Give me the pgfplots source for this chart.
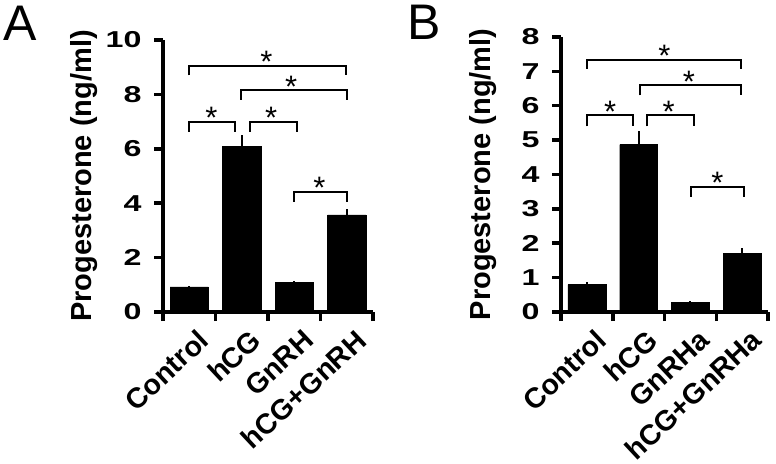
\documentclass[border=0pt]{standalone}
\usepackage{pgfplots}
\pgfplotsset{compat=1.18}
\usepackage{fontspec}
\setmainfont{Liberation Sans}
\newfontfamily\tickfont[FakeStretch=1.4]{Liberation Sans}
\tikzset{sigstar/.style={anchor=base, font=\fontsize{31}{31}\selectfont, yshift=-7pt}}
\begin{document}
\begin{tikzpicture}
\useasboundingbox (0,0) rectangle (776pt,463pt);
\pgfplotsset{
  myax/.style={
    scale only axis, anchor=south west, clip=false,
    xmin=-0.5, xmax=3.5, ymin=0,
    axis x line=bottom, axis y line=left,
    axis line style={-, line width=3.5pt},
    tick align=outside,
    major tick length=9pt,
    every tick/.style={black, line width=3.5pt},
    /pgf/number format/assume math mode=true,
    xtick={-0.5,0.5,1.5,2.5,3.5}, xticklabels={},
    extra x ticks={0,1,2,3},
    extra x tick style={major tick length=0pt,
      xticklabel style={rotate=43, anchor=north east, font=\bfseries\fontsize{28.5}{28.5}\selectfont, xshift=-2pt, yshift=-13pt}},
    yticklabel style={font=\tickfont\bfseries\fontsize{23}{23}\selectfont, xshift=-9pt},
    ylabel={Progesterone (ng/ml)},
    ylabel style={font=\bfseries\fontsize{29}{29}\selectfont, anchor=center},
  },
  brk/.style={black, line width=2pt, no marks, forget plot},
  bars/.style={ybar, bar width=0.73, fill=black, draw=black,
    error bars/.cd, y dir=plus, y explicit, error mark=none,
    error bar style={line width=2pt}},
}
\node[font=\fontsize{50}{50}\selectfont] at (20pt,440pt) {A};
\node[font=\fontsize{50}{50}\selectfont] at (424pt,441pt) {B};
% Panel A
\begin{axis}[myax, at={(163pt,151pt)}, width=210pt, height=272pt,
  ymax=10, ytick={0,2,4,6,8,10},
  extra x tick labels={Control,hCG,GnRH,hCG+GnRH},
  ylabel style={at={(axis description cs:-0.375,0.5)}}]
\addplot[bars] coordinates {(0,0.92) +- (0,0.02) (1,6.1) +- (0,0.4) (2,1.1) +- (0,0.03) (3,3.57) +- (0,0.21)};
\addplot[brk] coordinates {(0,8.7) (0,9.05) (2.98,9.05) (2.98,8.7)};
\addplot[brk] coordinates {(0.98,7.8) (0.98,8.16) (3.0,8.16) (3.0,7.8)};
\addplot[brk] coordinates {(0,6.63) (0,7.0) (0.88,7.0) (0.88,6.63)};
\addplot[brk] coordinates {(1.15,6.63) (1.15,7.0) (2.06,7.0) (2.06,6.63)};
\addplot[brk] coordinates {(2.0,4.05) (2.0,4.42) (3.0,4.42) (3.0,4.05)};
\node[sigstar] at (axis cs:1.47,9.05) {*};
\node[sigstar] at (axis cs:1.94,8.16) {*};
\node[sigstar] at (axis cs:0.42,7.0) {*};
\node[sigstar] at (axis cs:1.56,7.0) {*};
\node[sigstar] at (axis cs:2.48,4.42) {*};
\end{axis}
% Panel B
\begin{axis}[myax, at={(561pt,151pt)}, width=207pt, height=275pt,
  ymax=8, ytick={0,1,2,3,4,5,6,7,8},
  extra x tick labels={Control,hCG,GnRHa,hCG+GnRHa},
  ylabel style={at={(axis description cs:-0.377,0.5)}}]
\addplot[bars] coordinates {(0,0.8) +- (0,0.07) (1,4.87) +- (0,0.4) (2,0.28) +- (0,0.04) (3,1.7) +- (0,0.15)};
\addplot[brk] coordinates {(0,7.08) (0,7.34) (2.98,7.34) (2.98,7.08)};
\addplot[brk] coordinates {(1.02,6.3) (1.02,6.6) (2.98,6.6) (2.98,6.3)};
\addplot[brk] coordinates {(0,5.4) (0,5.73) (0.89,5.73) (0.89,5.4)};
\addplot[brk] coordinates {(1.16,5.4) (1.16,5.73) (2.07,5.73) (2.07,5.4)};
\addplot[brk] coordinates {(2.02,3.35) (2.02,3.64) (3.03,3.64) (3.03,3.35)};
\node[sigstar] at (axis cs:1.5,7.34) {*};
\node[sigstar] at (axis cs:1.97,6.6) {*};
\node[sigstar] at (axis cs:0.45,5.73) {*};
\node[sigstar] at (axis cs:1.58,5.73) {*};
\node[sigstar] at (axis cs:2.52,3.64) {*};
\end{axis}
\end{tikzpicture}
\end{document}
